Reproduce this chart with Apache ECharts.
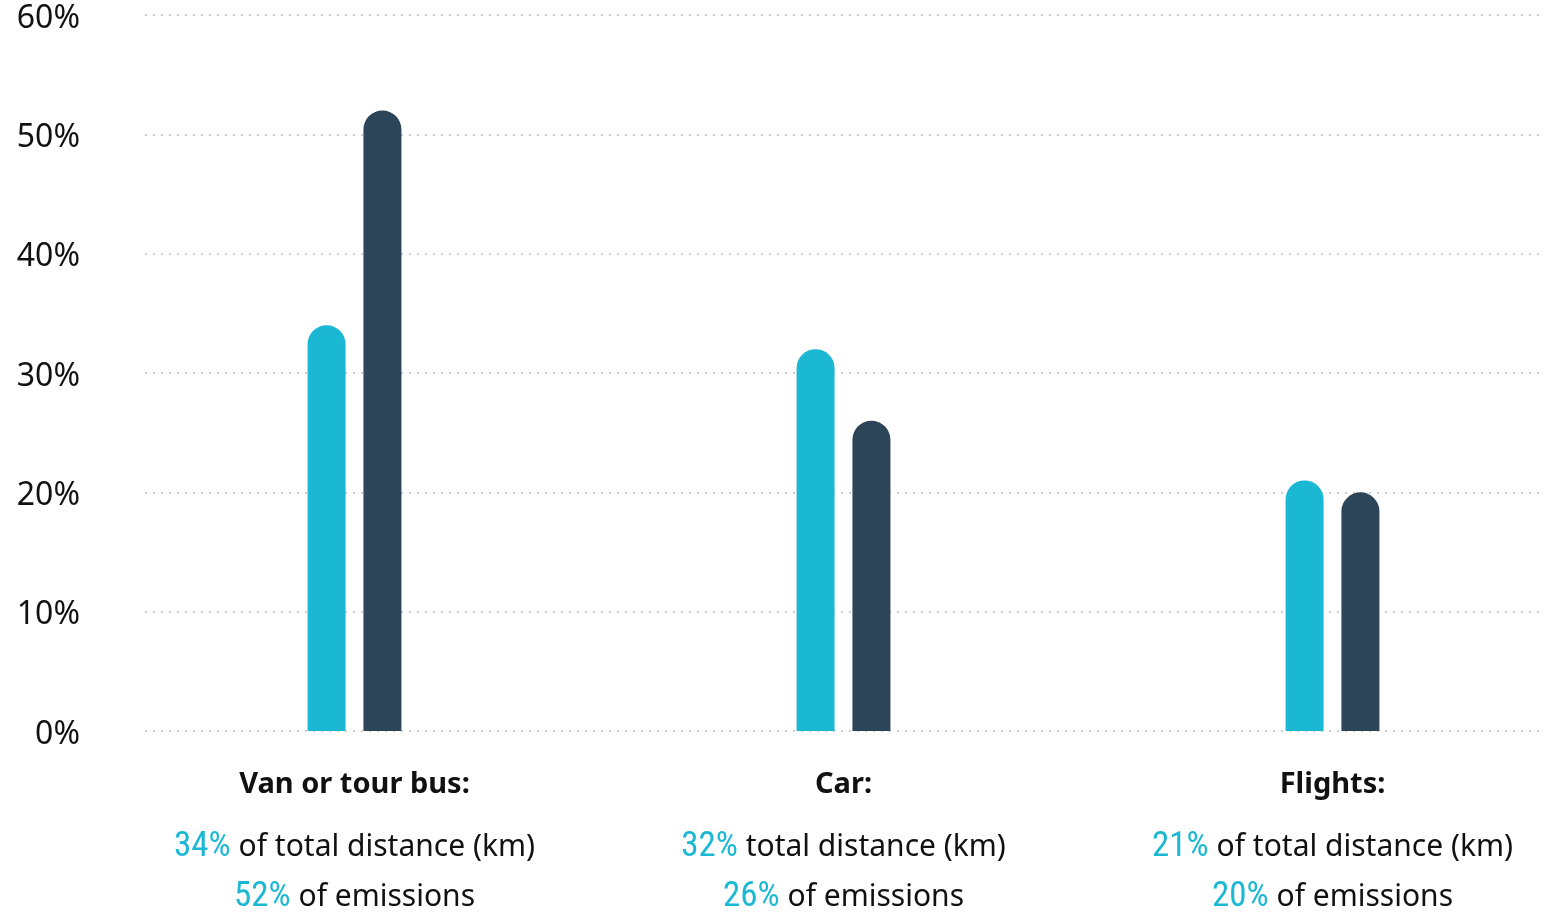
<!DOCTYPE html>
<html>
<head>
<meta charset="utf-8">
<script src="https://cdn.jsdelivr.net/npm/echarts@6/dist/echarts.min.js"></script>
<style>
html,body{margin:0;padding:0;background:#fff;}
#chart{width:1544px;height:912px;}
</style>
</head>
<body>
<div id="chart"></div>
<script>
// ---- data ----
const categories = ['Van or tour bus:', 'Car:', 'Flights:'];
const distanceShare = [34, 32, 21];
const emissionShare = [52, 26, 20];
const distanceText = ['of total distance (km)', 'total distance (km)', 'of total distance (km)'];
const emissionText = ['of emissions', 'of emissions', 'of emissions'];
const yTicks = [0, 10, 20, 30, 40, 50, 60];

const CYAN = '#1bb8d4';
const NAVY = '#2c4559';
const bodyFont = "'Noto Sans', 'Open Sans', sans-serif";
const numFont = "'Roboto Condensed', 'Roboto', sans-serif";

const chart = echarts.init(document.getElementById('chart'), null, {renderer: 'canvas'});

const option = {
  backgroundColor: '#fff',
  animation: false,
  grid: [
    {left: 145, right: 4, top: 15, bottom: 181, outerBoundsMode: 'none', containLabel: false},
    {left: 110, width: 1467, top: 15, bottom: 181, outerBoundsMode: 'none', containLabel: false}
  ],
  xAxis: [
    {gridIndex: 0, type: 'category', data: categories, show: false},
    {
      gridIndex: 1, type: 'category', data: categories,
      axisLine: {show: false}, axisTick: {show: false}, splitLine: {show: false},
      axisLabel: {
        interval: 0, margin: 17, verticalAlign: 'top', align: 'center',
        formatter: function (value, idx) {
          return '{t|' + value + '}\n' +
            '{n|' + distanceShare[idx] + '%}{s| ' + distanceText[idx] + '}\n' +
            '{n|' + emissionShare[idx] + '%}{s| ' + emissionText[idx] + '}';
        },
        rich: {
          t: {fontFamily: bodyFont, fontWeight: 'bold', fontSize: 29, color: '#111', lineHeight: 74, verticalAlign: 'middle'},
          n: {fontFamily: numFont, fontWeight: 'normal', fontSize: 35, color: CYAN, lineHeight: 50, verticalAlign: 'middle'},
          s: {fontFamily: bodyFont, fontSize: 30, color: '#111', lineHeight: 50, verticalAlign: 'middle'}
        }
      }
    }
  ],
  yAxis: [
    {
      gridIndex: 0, type: 'value', min: yTicks[0], max: yTicks[yTicks.length - 1], interval: 10,
      axisLine: {show: false}, axisTick: {show: false},
      axisLabel: {
        formatter: '{v|{value}%}', margin: 65, align: 'right',
        rich: {v: {fontFamily: bodyFont, fontSize: 32, color: '#111', padding: [7, 0, 0, 0], align: 'right'}}
      },
      splitLine: {show: true, lineStyle: {color: '#cfcfcf', width: 2, type: [2, 6]}}
    },
    {
      gridIndex: 1, type: 'value', min: yTicks[0], max: yTicks[yTicks.length - 1], interval: 10,
      show: false, splitLine: {show: false}
    }
  ],
  series: [
    {
      name: 'Distance', type: 'bar', xAxisIndex: 1, yAxisIndex: 1,
      data: distanceShare, barWidth: 38, barGap: '47%',
      itemStyle: {color: CYAN, borderRadius: [19, 19, 0, 0]}
    },
    {
      name: 'Emissions', type: 'bar', xAxisIndex: 1, yAxisIndex: 1,
      data: emissionShare, barWidth: 38, barGap: '47%',
      itemStyle: {color: NAVY, borderRadius: [19, 19, 0, 0]}
    }
  ]
};
chart.setOption(option);
</script>
</body>
</html>
